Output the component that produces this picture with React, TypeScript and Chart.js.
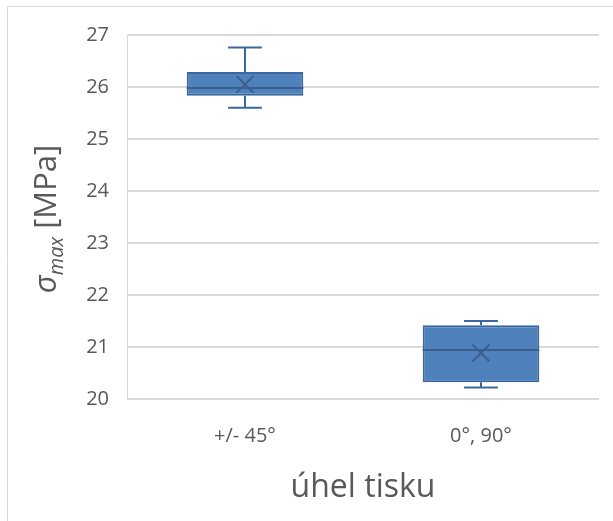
import React, { useEffect, useRef } from "react";
import { Chart, registerables } from "chart.js";

Chart.register(...registerables);

const categories = ["+/- 45°", "0°, 90°"];
const minValues = [25.6, 20.22];
const q1Values = [25.83, 20.32];
const medianValues = [25.98, 20.94];
const q3Values = [26.29, 21.42];
const maxValues = [26.76, 21.5];
const meanValues = [26.05, 20.885];
const yTicks = [20, 21, 22, 23, 24, 25, 26, 27];

const FONT = "'Open Sans', 'DejaVu Sans', sans-serif";
const TEXT = "#595959";
const FILL = "#4f81bd";
const EDGE = "#3a679e";
const DARK = "#3a5f8f";

const boxPlugin = {
  id: "boxParts",
  beforeDraw(chart: any) {
    const { ctx } = chart;
    ctx.save();
    ctx.fillStyle = "#ffffff";
    ctx.fillRect(0, 0, chart.width, chart.height);
    ctx.strokeStyle = "#d9d9d9";
    ctx.lineWidth = 1;
    ctx.beginPath();
    ctx.moveTo(7.5, chart.height);
    ctx.lineTo(7.5, 6.5);
    ctx.lineTo(chart.width, 6.5);
    ctx.stroke();
    ctx.restore();
  },
  afterDatasetsDraw(chart: any) {
    const { ctx } = chart;
    const x = chart.scales.x;
    const y = chart.scales.y;
    const meta = chart.getDatasetMeta(0);
    ctx.save();
    categories.forEach((_, i) => {
      const bar = meta.data[i];
      const cx = x.getPixelForValue(i);
      const half = bar.width / 2;
      const cap = bar.width * 0.145;
      ctx.strokeStyle = EDGE;
      ctx.lineWidth = 2;
      ctx.beginPath();
      ctx.moveTo(cx, y.getPixelForValue(q3Values[i]));
      ctx.lineTo(cx, y.getPixelForValue(maxValues[i]));
      ctx.moveTo(cx, y.getPixelForValue(q1Values[i]));
      ctx.lineTo(cx, y.getPixelForValue(minValues[i]));
      ctx.moveTo(cx - cap, y.getPixelForValue(maxValues[i]));
      ctx.lineTo(cx + cap, y.getPixelForValue(maxValues[i]));
      ctx.moveTo(cx - cap, y.getPixelForValue(minValues[i]));
      ctx.lineTo(cx + cap, y.getPixelForValue(minValues[i]));
      ctx.stroke();
      ctx.strokeStyle = DARK;
      ctx.lineWidth = 2;
      ctx.beginPath();
      const my = y.getPixelForValue(medianValues[i]);
      ctx.moveTo(cx - half, my);
      ctx.lineTo(cx + half, my);
      ctx.stroke();
    });
    ctx.restore();
  },
  afterDraw(chart: any) {
    const { ctx } = chart;
    ctx.save();
    ctx.fillStyle = TEXT;
    ctx.textBaseline = "alphabetic";
    const big = `italic 31px ${FONT}`;
    const small = `italic 20px ${FONT}`;
    const reg = `31px ${FONT}`;
    const parts = [
      { t: "σ", f: big, dy: 0 },
      { t: "max", f: small, dy: 7 },
      { t: " [MPa]", f: reg, dy: 0 },
    ];
    let total = 0;
    const widths = parts.map((p) => {
      ctx.font = p.f;
      const w = ctx.measureText(p.t).width;
      total += w;
      return w;
    });
    const cx = 56;
    const cy = 219;
    ctx.translate(cx, cy);
    ctx.rotate(-Math.PI / 2);
    let pos = -total / 2;
    parts.forEach((p, i) => {
      ctx.font = p.f;
      ctx.fillText(p.t, pos, p.dy);
      pos += widths[i];
    });
    ctx.restore();
  },
};

export default function App() {
  const ref = useRef<HTMLCanvasElement>(null);
  useEffect(() => {
    if (!ref.current) return;
    const chart = new Chart(ref.current, {
      type: "bar",
      data: {
        labels: categories,
        datasets: [
          {
            type: "bar",
            data: q1Values.map((q, i) => [q, q3Values[i]]) as any,
            backgroundColor: FILL,
            borderColor: EDGE,
            borderWidth: 2,
            borderSkipped: false,
            categoryPercentage: 1,
            barPercentage: 0.494,
            order: 2,
          },
          {
            type: "line",
            data: meanValues,
            showLine: false,
            pointStyle: "crossRot",
            pointRadius: 12,
            pointBorderWidth: 2,
            pointBorderColor: DARK,
            pointBackgroundColor: DARK,
            order: 1,
          } as any,
        ],
      },
      options: {
        responsive: false,
        animation: false,
        events: [],
        layout: { padding: { left: 0, top: 35, right: 10, bottom: 0 } },
        plugins: { legend: { display: false }, tooltip: { enabled: false } },
        scales: {
          x: {
            grid: { display: false },
            border: { display: false },
            ticks: { color: TEXT, font: { family: FONT, size: 20 }, padding: 17 },
            title: {
              display: true,
              text: "úhel tisku",
              color: TEXT,
              font: { family: FONT, size: 32 },
              padding: { top: 0, bottom: 14 },
            },
            afterFit(scale: any) {
              scale.height = 122;
            },
          },
          y: {
            min: 20,
            max: 27,
            afterBuildTicks(scale: any) {
              scale.ticks = yTicks.map((v) => ({ value: v }));
            },
            grid: { color: "#d9d9d9", lineWidth: 2, drawTicks: false },
            border: { display: true, color: "#d9d9d9", width: 1 },
            ticks: { color: TEXT, font: { family: FONT, size: 20 }, padding: 18 },
            afterFit(scale: any) {
              scale.width = 127;
            },
          },
        },
      },
      plugins: [boxPlugin],
    });
    return () => chart.destroy();
  }, []);
  return (
    <div style={{ position: "fixed", left: 0, top: 0, width: 613, height: 521 }}>
      <canvas ref={ref} width={613} height={521} style={{ width: 613, height: 521 }} />
    </div>
  );
}
